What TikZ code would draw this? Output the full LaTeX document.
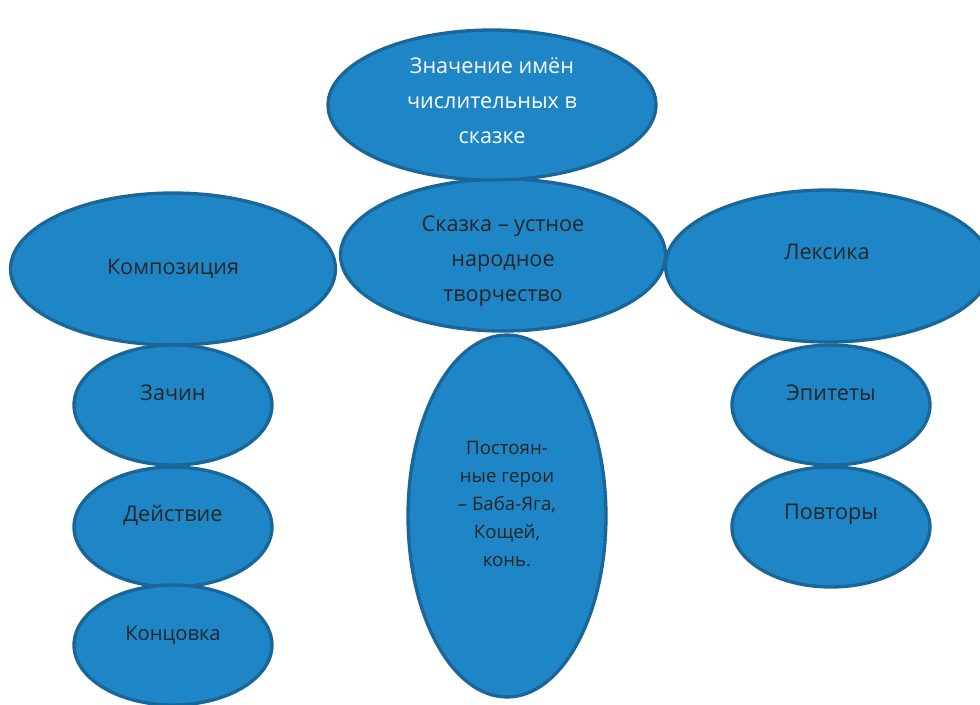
\documentclass[tikz,border=0pt]{standalone}
\usepackage{fontspec}
\setmainfont{Open Sans}
\usetikzlibrary{shapes.geometric}
\definecolor{ovalfill}{RGB}{30,134,199}
\definecolor{ovaldraw}{RGB}{27,102,152}
\definecolor{ovaltext}{RGB}{38,38,38}

\begin{document}
\begin{tikzpicture}[x=0.02cm, y=-0.02cm,
    oval/.style={ellipse, draw=ovaldraw, fill=ovalfill, line width=1.9pt, inner sep=0pt},
    big/.style={oval, minimum width=6.5cm, minimum height=3.04cm},
    small/.style={oval, minimum width=3.96cm, minimum height=2.4cm},
    lbl/.style={text=ovaltext, font=\fontsize{12.3}{19.8}\selectfont, align=center}]
\useasboundingbox (0,0) rectangle (980,704);

% centres of the ovals
\coordinate (T) at (492,105);
\coordinate (M) at (503,255);
\coordinate (L) at (173,269);
\coordinate (R) at (828,266);
\coordinate (L1) at (173,405);
\coordinate (L2) at (173,527);
\coordinate (L3) at (173,645);
\coordinate (R1) at (831,405);
\coordinate (R2) at (831,527);
\coordinate (H) at (507,516);

% middle column
\node[big] (skazka) at (M) {};
\node[big, minimum width=6.56cm, minimum height=3cm] (title) at (T) {};
\node[lbl, text=white] (titletext) at (492,101)
    {Значение имён\\числительных в\\сказке};
\node[lbl] (skazkatext) at (503,261)
    {Сказка – устное\\народное\\творчество};

% left and right heads
\node[big] (kompoz) at (L) {};
\node[lbl] (kompoztext) at (173,269) {Композиция};
\node[big] (leksika) at (R) {};
\node[lbl] (leksikatext) at (827,252) {Лексика};

% left column
\node[small] (zachin) at (L1) {};
\node[lbl] (zachintext) at (173,393) {Зачин};
\node[small] (deystvie) at (L2) {};
\node[lbl] (deystvietext) at (173,515) {Действие};
\node[small] (kontsovka) at (L3) {};
\node[lbl, font=\fontsize{11.5}{18}\selectfont] (kontsovkatext) at (173,635) {Концовка};

% right column
\node[small] (epitety) at (R1) {};
\node[lbl] (epitetytext) at (831,393) {Эпитеты};
\node[small] (povtory) at (R2) {};
\node[lbl] (povtorytext) at (831,514) {Повторы};

% heroes
\node[oval, minimum width=3.96cm, minimum height=7.24cm] (geroi) at (H) {};
\node[lbl, font=\fontsize{10.6}{16}\selectfont] (geroitext) at (507,504)
    {Постоян-\\ные герои\\– Баба-Яга,\\Кощей,\\конь.};
\end{tikzpicture}
\end{document}
